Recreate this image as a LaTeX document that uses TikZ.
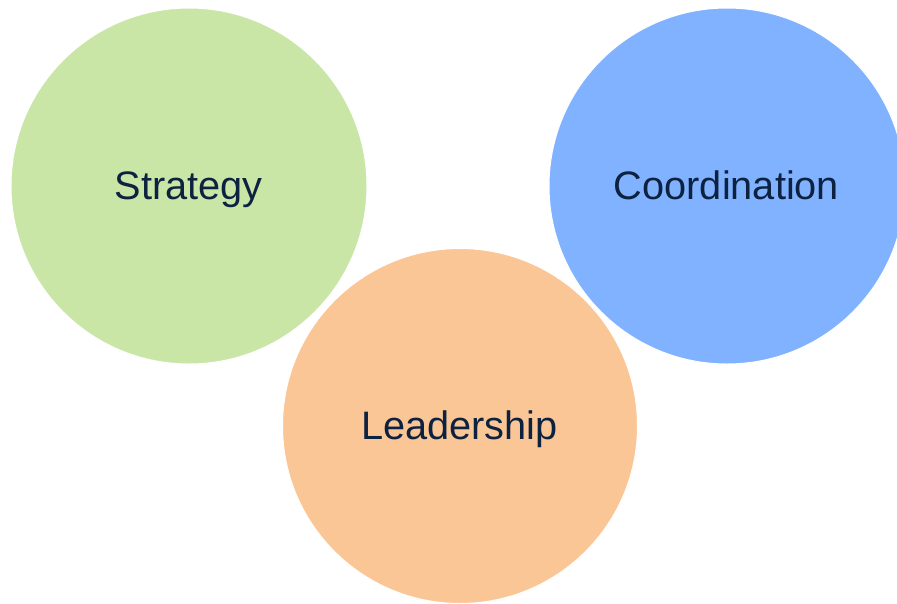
\documentclass[tikz,border=0pt]{standalone}
\usepackage{fontspec}
\setmainfont{Liberation Sans}
\definecolor{cgreen}{HTML}{C9E6A7}
\definecolor{cblue}{HTML}{80B2FF}
\definecolor{corange}{HTML}{FBC695}
\definecolor{ctext}{HTML}{0D2240}
\begin{document}
\begin{tikzpicture}[x=1pt,y=-1pt,
  blob/.style={circle,draw=white,line width=1pt,inner sep=0pt,minimum size=#1},
  lbl/.style={anchor=base,text=ctext,font=\fontsize{39.7}{48}\selectfont,inner sep=0pt}]
\useasboundingbox (0,0) rectangle (897,603);
\begin{scope}
\clip (0,0) rectangle (897,603);
\node[blob=356pt,fill=cgreen] (s) at (189,186) {};
\node[blob=356pt,fill=cblue] (c) at (727,186) {};
\node[blob=355pt,fill=corange] (l) at (460,426) {};
\end{scope}
\node[lbl] (st) at (188.5,199) {Strategy};
\node[lbl] (co) at (726.5,199) {Coordination};
\node[lbl] (le) at (459.5,439) {Leadership};
\end{tikzpicture}
\end{document}
